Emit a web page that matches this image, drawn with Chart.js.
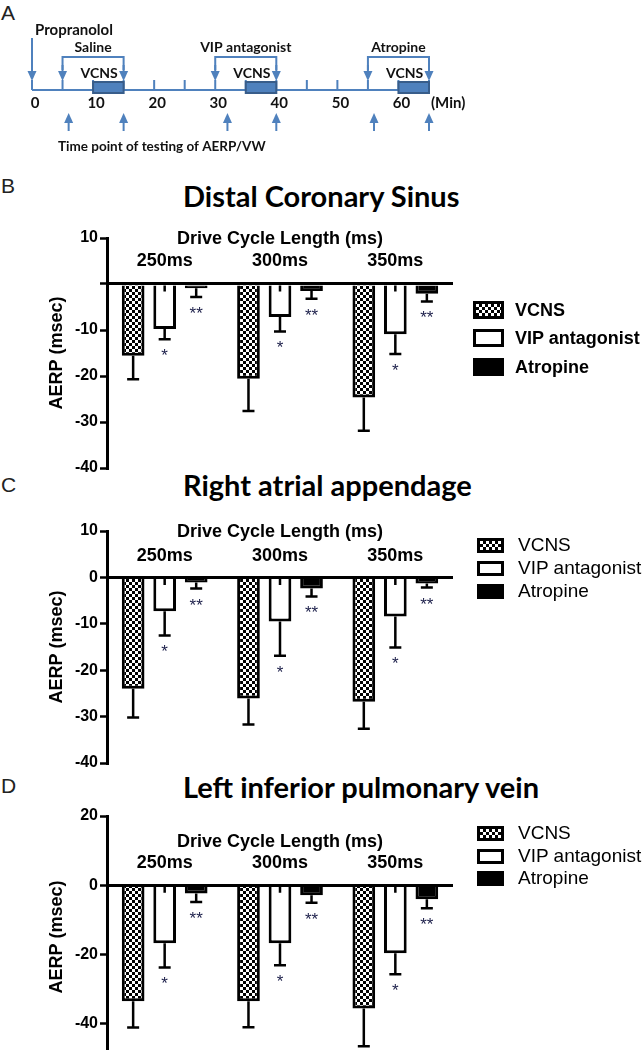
<!DOCTYPE html>
<html>
<head>
<meta charset="utf-8">
<script src="https://cdn.jsdelivr.net/npm/chart.js@4.4.1/dist/chart.umd.min.js"></script>
<style>
  body { margin: 0; width: 644px; height: 1050px; overflow: hidden; background: #fff; position: relative; }
  .abs { position: absolute; white-space: nowrap; }
  .letter { font: 21px "Liberation Sans", Arial, sans-serif; line-height: 22px; color: #222; left: 1px; }
  .title { font: bold 29px Lato, sans-serif; line-height: 32px; color: #000; left: 183px; }
  canvas { position: absolute; left: 0; }
</style>
</head>
<body>
<div class="abs letter" style="top:2px">A</div>
<div class="abs letter" style="top:175px">B</div>
<div class="abs letter" style="top:474px">C</div>
<div class="abs letter" style="top:775px">D</div>

<div class="abs title" style="top:180px">Distal Coronary Sinus</div>
<div class="abs title" style="top:469px">Right atrial appendage</div>
<div class="abs title" style="top:771px">Left inferior pulmonary vein</div>

<canvas id="timeline" width="644" height="170" style="top:0"></canvas>
<canvas id="dcs" width="644" height="254" style="top:226px"></canvas>
<canvas id="raa" width="644" height="256" style="top:519px"></canvas>
<canvas id="lipv" width="644" height="266" style="top:804px"></canvas>

<script>
// Panel A : protocole (minutes)
const timeTicks = [0, 10, 20, 30, 40, 50, 60];
const propranololTime = 0;
const drugNames = ['Saline', 'VIP antagonist', 'Atropine'];
const drugStart = [5, 30, 55];
const drugEnd = [15, 40, 65];
const vcnsStart = [10, 35, 60];
const vcnsEnd = [15, 40, 65];
const testTimes = [6, 15, 32, 40, 56, 65];

// Panels B-D : AERP (msec)
const cycleLabels = ['250ms', '300ms', '350ms'];
const seriesNames = ['VCNS', 'VIP antagonist', 'Atropine'];

const dcsVCNS = [-15.6, -20.6, -24.7];
const dcsVIP = [-9.8, -7.2, -10.9];
const dcsAtropine = [-0.9, -1.5, -2.1];
const dcsVCNSErr = [5.1, 7.0, 7.2];
const dcsVIPErr = [2.2, 3.1, 4.3];
const dcsAtropineErr = [1.9, 1.7, 1.7];

const raaVCNS = [-24.0, -26.1, -26.8];
const raaVIP = [-7.3, -9.5, -8.4];
const raaAtropine = [-1.1, -2.4, -1.3];
const raaVCNSErr = [6.2, 5.6, 5.8];
const raaVIPErr = [5.2, 7.4, 6.7];
const raaAtropineErr = [1.3, 1.7, 0.9];

const lipvVCNS = [-33.6, -33.6, -35.7];
const lipvVIP = [-16.8, -16.8, -19.7];
const lipvAtropine = [-2.4, -2.9, -4.1];
const lipvVCNSErr = [7.6, 7.5, 10.9];
const lipvVIPErr = [7.0, 6.4, 6.1];
const lipvAtropineErr = [2.5, 2.2, 2.6];

const vipMarks = ['*', '*', '*'];
const atropineMarks = ['**', '**', '**'];

// ---------- Panel A ----------
const blue = '#4f81bd';

function arrow(ctx, x, y0, y1) {
  const dir = y1 > y0 ? 1 : -1;
  ctx.beginPath();
  ctx.moveTo(x, y0);
  ctx.lineTo(x, y1 - dir * 8);
  ctx.stroke();
  ctx.beginPath();
  ctx.moveTo(x, y1);
  ctx.lineTo(x - 4.5, y1 - dir * 10);
  ctx.lineTo(x + 4.5, y1 - dir * 10);
  ctx.closePath();
  ctx.fill();
}

const timelinePlugin = {
  id: 'timeline',
  afterDraw(chart) {
    const ctx = chart.ctx;
    const px = v => chart.scales.x.getPixelForValue(v);
    ctx.save();
    ctx.strokeStyle = blue;
    ctx.fillStyle = blue;
    ctx.lineWidth = 2;

    // ligne du temps + graduations toutes les 5 min
    ctx.beginPath();
    ctx.moveTo(px(0), 90);
    ctx.lineTo(px(65), 90);
    for (let t = 0; t <= 65; t += 5) {
      ctx.moveTo(px(t), 80);
      ctx.lineTo(px(t), 90);
    }
    ctx.stroke();

    // propranolol
    arrow(ctx, px(propranololTime), 38, 81);

    // crochets des drogues
    drugNames.forEach((name, i) => {
      ctx.beginPath();
      ctx.moveTo(px(drugStart[i]), 70);
      ctx.lineTo(px(drugStart[i]), 57);
      ctx.lineTo(px(drugEnd[i]), 57);
      ctx.lineTo(px(drugEnd[i]), 70);
      ctx.stroke();
      arrow(ctx, px(drugStart[i]), 65, 81);
      arrow(ctx, px(drugEnd[i]), 65, 81);
    });

    // boites VCNS
    vcnsStart.forEach((s, i) => {
      ctx.fillStyle = blue;
      ctx.fillRect(px(s), 82, px(vcnsEnd[i]) - px(s), 11);
      ctx.strokeStyle = '#385d8a';
      ctx.strokeRect(px(s), 82, px(vcnsEnd[i]) - px(s), 11);
    });

    // fleches des mesures
    ctx.strokeStyle = blue;
    ctx.fillStyle = blue;
    testTimes.forEach(t => arrow(ctx, px(t), 131, 113));

    // textes
    ctx.fillStyle = '#111';
    ctx.textBaseline = 'middle';
    ctx.font = 'bold 15px Lato';
    ctx.textAlign = 'left';
    ctx.fillText('Propranolol', px(propranololTime) + 3, 30);
    ctx.font = 'bold 14px Lato';
    ctx.textAlign = 'center';
    drugNames.forEach((name, i) => {
      ctx.fillText(name, (px(drugStart[i]) + px(drugEnd[i])) / 2, 47);
    });
    vcnsStart.forEach(s => ctx.fillText('VCNS', px(s + 1), 73));
    ctx.font = 'bold 15px Lato';
    timeTicks.forEach(t => ctx.fillText(String(t), px(t) + 3, 103));
    ctx.textAlign = 'left';
    ctx.fillText('(Min)', px(65) + 2, 103);
    ctx.font = 'bold 13.5px Lato';
    ctx.fillText('Time point of testing of AERP/VW', 58, 147);
    ctx.restore();
  }
};

new Chart(document.getElementById('timeline'), {
  type: 'scatter',
  data: { datasets: [] },
  options: {
    responsive: false,
    animation: false,
    layout: { padding: { left: 32, right: 215, top: 0, bottom: 0 } },
    scales: {
      x: { type: 'linear', min: 0, max: 65, display: false },
      y: { min: 0, max: 1, display: false }
    },
    plugins: { legend: { display: false }, tooltip: { enabled: false } }
  },
  plugins: [timelinePlugin]
});

// ---------- Panels B-D ----------
function checker() {
  const c = document.createElement('canvas');
  c.width = 6; c.height = 6;
  const g = c.getContext('2d');
  g.fillStyle = '#fff'; g.fillRect(0, 0, 6, 6);
  g.fillStyle = '#000'; g.fillRect(0, 0, 3, 3); g.fillRect(3, 3, 3, 3);
  return g.createPattern(c, 'repeat');
}

const barExtras = {
  id: 'barExtras',
  afterDatasetsDraw(chart, args, opts) {
    const ctx = chart.ctx;
    const y = chart.scales.y;
    const x = chart.scales.x;
    const area = chart.chartArea;
    ctx.save();
    chart.data.datasets.forEach((ds, i) => {
      const meta = chart.getDatasetMeta(i);
      meta.data.forEach((bar, j) => {
        const ye = y.getPixelForValue(ds.data[j] - ds.err[j]);
        ctx.strokeStyle = '#000';
        ctx.lineWidth = 2.5;
        ctx.beginPath();
        ctx.moveTo(bar.x, bar.y);
        ctx.lineTo(bar.x, ye);
        ctx.moveTo(bar.x - 6, ye);
        ctx.lineTo(bar.x + 6, ye);
        if (ds.stub) {
          ctx.moveTo(bar.x, bar.base);
          ctx.lineTo(bar.x, bar.base + 6);
        }
        ctx.stroke();
        if (ds.marks) {
          ctx.fillStyle = '#1c1f4a';
          ctx.font = '17px "Liberation Sans"';
          ctx.textAlign = 'center';
          ctx.textBaseline = 'alphabetic';
          ctx.fillText(ds.marks[j], bar.x, ye + 22);
        }
      });
    });
    ctx.fillStyle = '#000';
    ctx.font = 'bold 18px "Liberation Sans"';
    ctx.textAlign = 'center';
    ctx.textBaseline = 'middle';
    ctx.fillText('Drive Cycle Length (ms)', (area.left + area.right) / 2, area.top + opts.headerDy);
    cycleLabels.forEach((lab, k) => ctx.fillText(lab, x.getPixelForValue(k), area.top + opts.labelDy));
    ctx.restore();
  }
};

function makePanel(id, vcns, vip, atropine, vcnsErr, vipErr, atropineErr, yMin, yMax, step, hideZero, headerDy, labelDy) {
  return new Chart(document.getElementById(id), {
    type: 'bar',
    data: {
      labels: cycleLabels,
      datasets: [
        { label: seriesNames[0], data: vcns, err: vcnsErr, backgroundColor: checker(), borderColor: '#000', borderWidth: 3 },
        { label: seriesNames[1], data: vip, err: vipErr, marks: vipMarks, stub: true, backgroundColor: '#fff', borderColor: '#000', borderWidth: 3 },
        { label: seriesNames[2], data: atropine, err: atropineErr, marks: atropineMarks, backgroundColor: '#000', borderColor: '#000', borderWidth: 3 }
      ]
    },
    options: {
      responsive: false,
      animation: false,
      categoryPercentage: 0.82,
      barPercentage: 0.72,
      layout: { padding: { left: 0, right: 191, top: 12, bottom: 12 } },
      scales: {
        x: { display: false },
        y: {
          min: yMin,
          max: yMax,
          afterFit(scale) { scale.width = 107; },
          ticks: {
            stepSize: step,
            includeBounds: false,
            color: '#000',
            padding: 2,
            font: { family: 'Liberation Sans', weight: 'bold', size: 16 },
            callback: v => (hideZero && v === 0) ? '' : v
          },
          grid: {
            z: 1,
            color: c => c.tick && c.tick.value === 0 ? '#000' : 'rgba(0,0,0,0)',
            lineWidth: 3,
            tickColor: '#000',
            tickWidth: 2.5,
            tickLength: 7
          },
          border: { color: '#000', width: 3, z: 2 },
          title: {
            display: true,
            text: 'AERP (msec)',
            color: '#000',
            font: { family: 'Liberation Sans', weight: 'bold', size: 18 },
            padding: { top: 46, bottom: 0 }
          }
        }
      },
      plugins: {
        legend: { display: false },
        tooltip: { enabled: false },
        barExtras: { headerDy: headerDy, labelDy: labelDy }
      }
    },
    plugins: [barExtras]
  });
}

makePanel('dcs', dcsVCNS, dcsVIP, dcsAtropine, dcsVCNSErr, dcsVIPErr, dcsAtropineErr, -40, 10, 10, true, 1, 23);
makePanel('raa', raaVCNS, raaVIP, raaAtropine, raaVCNSErr, raaVIPErr, raaAtropineErr, -40, 10, 10, false, 1, 25);
makePanel('lipv', lipvVCNS, lipvVIP, lipvAtropine, lipvVCNSErr, lipvVIPErr, lipvAtropineErr, -50, 20, 20, false, 26, 47);

// Legendes
function legend(centers, boxLeft, boxW, boxH, textLeft, font) {
  const swatch = [
    'background: repeating-conic-gradient(#000 0% 25%, #fff 0% 50%) 0 0 / 6px 6px; border: 3px solid #000;',
    'background: #fff; border: 3px solid #000;',
    'background: #000;'
  ];
  seriesNames.forEach((name, i) => {
    const box = document.createElement('div');
    box.className = 'abs';
    box.style.cssText += `left:${boxLeft}px; top:${centers[i] - boxH / 2}px; width:${boxW}px; height:${boxH}px; box-sizing:border-box;` + swatch[i];
    document.body.appendChild(box);
    const txt = document.createElement('div');
    txt.className = 'abs';
    txt.textContent = name;
    txt.style.cssText += `left:${textLeft}px; top:${centers[i] - 12}px; line-height:24px; font:${font}; color:#000;`;
    document.body.appendChild(txt);
  });
}

legend([310, 338, 367], 473, 31, 18, 515, 'bold 18px/24px "Liberation Sans"');
legend([545, 568, 591], 477, 27, 15, 518, '19px/24px "Liberation Sans"');
legend([833, 856, 878], 477, 27, 15, 518, '19px/24px "Liberation Sans"');
</script>
</body>
</html>
